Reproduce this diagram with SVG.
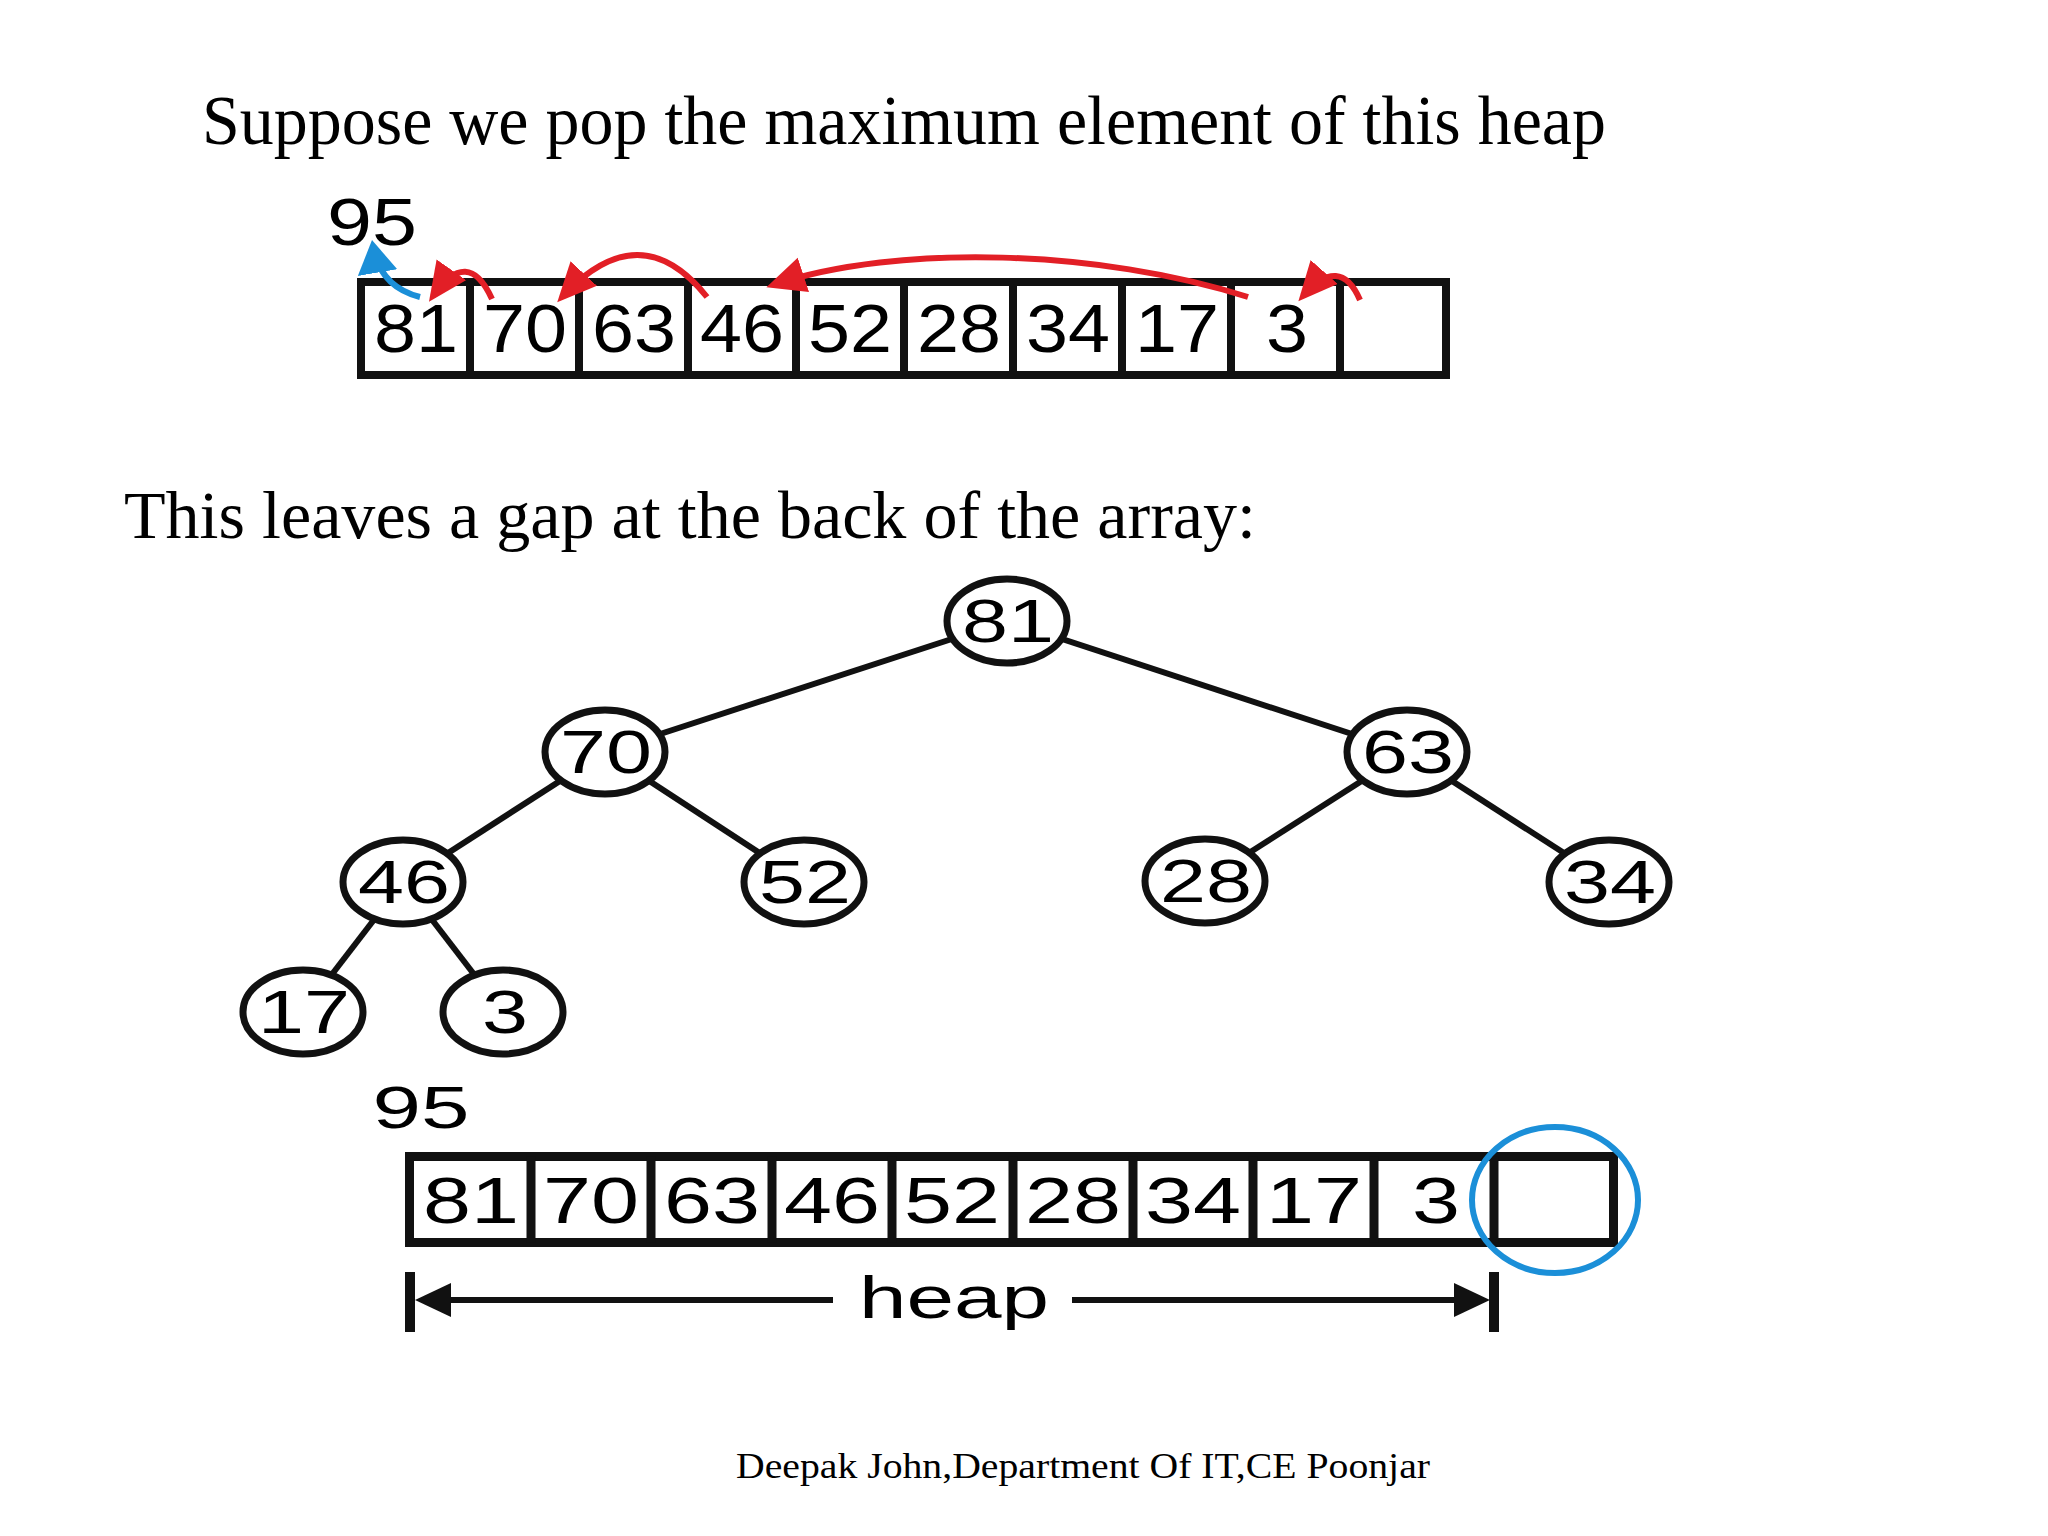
<svg xmlns="http://www.w3.org/2000/svg" width="2048" height="1536" viewBox="0 0 2048 1536">
<style>
.serif{font-family:"Liberation Serif","Times New Roman",serif;fill:#000}
.num{font-family:"Liberation Sans",Arial,Helvetica,sans-serif;fill:#000;text-anchor:middle}
.topnum{font-size:68px}
.botnum{font-size:64px}
.treenum{font-size:61px}
.cellbox{fill:#fff;stroke:#111;stroke-width:8}
.cellbox2{fill:#fff;stroke:#111;stroke-width:9}
.div1{stroke:#111;stroke-width:8}
.div2{stroke:#111;stroke-width:9}
.node{fill:#fff;stroke:#111;stroke-width:7}
.edge{stroke:#111;stroke-width:6;fill:none}
.red{stroke:#e21f26;stroke-width:6;fill:none}
.blue{stroke:#1b8fd8;stroke-width:6;fill:none}
</style>
<defs>
<marker id="redHead" markerUnits="userSpaceOnUse" markerWidth="44" markerHeight="40" refX="32" refY="18" orient="auto">
<path d="M0,0 L39,18 L0,36 z" fill="#e21f26"/>
</marker>
<marker id="blueHead" markerUnits="userSpaceOnUse" markerWidth="40" markerHeight="44" refX="27" refY="20" orient="auto">
<path d="M0,0 L33,20 L0,40 z" fill="#1b8fd8"/>
</marker>
</defs>
<rect width="2048" height="1536" fill="#fff"/>

<text class="serif" x="202" y="144" font-size="70" textLength="1404" lengthAdjust="spacingAndGlyphs">Suppose we pop the maximum element of this heap</text>
<text class="serif" x="124" y="538" font-size="68" textLength="1132" lengthAdjust="spacingAndGlyphs">This leaves a gap at the back of the array:</text>
<text class="serif" x="736" y="1478" font-size="36" textLength="694" lengthAdjust="spacingAndGlyphs">Deepak John,Department Of IT,CE Poonjar</text>

<!-- top array -->
<g id="top-array">
<rect class="cellbox" x="361" y="282" width="1085" height="93"/>
<line class="div1" x1="470" y1="282" x2="470" y2="375"/>
<line class="div1" x1="579" y1="282" x2="579" y2="375"/>
<line class="div1" x1="688" y1="282" x2="688" y2="375"/>
<line class="div1" x1="796" y1="282" x2="796" y2="375"/>
<line class="div1" x1="904" y1="282" x2="904" y2="375"/>
<line class="div1" x1="1013" y1="282" x2="1013" y2="375"/>
<line class="div1" x1="1122" y1="282" x2="1122" y2="375"/>
<line class="div1" x1="1231" y1="282" x2="1231" y2="375"/>
<line class="div1" x1="1340" y1="282" x2="1340" y2="375"/>
<text class="num topnum" x="416" y="352" textLength="84" lengthAdjust="spacingAndGlyphs">81</text>
<text class="num topnum" x="525" y="352" textLength="84" lengthAdjust="spacingAndGlyphs">70</text>
<text class="num topnum" x="634" y="352" textLength="84" lengthAdjust="spacingAndGlyphs">63</text>
<text class="num topnum" x="742" y="352" textLength="84" lengthAdjust="spacingAndGlyphs">46</text>
<text class="num topnum" x="850" y="352" textLength="84" lengthAdjust="spacingAndGlyphs">52</text>
<text class="num topnum" x="959" y="352" textLength="84" lengthAdjust="spacingAndGlyphs">28</text>
<text class="num topnum" x="1068" y="352" textLength="84" lengthAdjust="spacingAndGlyphs">34</text>
<text class="num topnum" x="1177" y="352" textLength="84" lengthAdjust="spacingAndGlyphs">17</text>
<text class="num topnum" x="1287" y="352" textLength="42" lengthAdjust="spacingAndGlyphs">3</text>
</g>
<text id="top-95" class="num" x="372" y="245" font-size="66" textLength="90" lengthAdjust="spacingAndGlyphs">95</text>

<!-- connectors -->
<g id="connectors">
<line class="edge" x1="1007" y1="621" x2="605" y2="752"/>
<line class="edge" x1="1007" y1="621" x2="1407" y2="752"/>
<line class="edge" x1="605" y1="752" x2="403" y2="882"/>
<line class="edge" x1="605" y1="752" x2="804" y2="882"/>
<line class="edge" x1="1407" y1="752" x2="1205" y2="881"/>
<line class="edge" x1="1407" y1="752" x2="1609" y2="882"/>
<line class="edge" x1="403" y1="882" x2="303" y2="1012"/>
<line class="edge" x1="403" y1="882" x2="503" y2="1012"/>

<path class="red" d="M 492 299 Q 468 246 433 296" marker-end="url(#redHead)"/>
<path class="red" d="M 707 297 Q 640 213 562 297" marker-end="url(#redHead)"/>
<path class="red" d="M 1248 297 C 1100 250 900 243 773 285" marker-end="url(#redHead)"/>
<path class="red" d="M 1360 300 Q 1340 254 1303 296" marker-end="url(#redHead)"/>
<path class="blue" d="M 420 297 Q 380 287 373 246" marker-end="url(#blueHead)"/>

<line x1="410" y1="1272" x2="410" y2="1332" stroke="#111" stroke-width="10"/>
<line x1="1494" y1="1272" x2="1494" y2="1332" stroke="#111" stroke-width="10"/>
<line x1="440" y1="1300" x2="833" y2="1300" stroke="#111" stroke-width="6"/>
<line x1="1072" y1="1300" x2="1465" y2="1300" stroke="#111" stroke-width="6"/>
<polygon points="415,1300 451,1283 451,1317" fill="#111"/>
<polygon points="1490,1300 1454,1283 1454,1317" fill="#111"/>
</g>

<!-- tree nodes -->
<g id="node-81"><ellipse class="node" cx="1007" cy="621" rx="60" ry="42"/><text class="num treenum" x="1008" y="642" textLength="92" lengthAdjust="spacingAndGlyphs">81</text></g>
<g id="node-70"><ellipse class="node" cx="605" cy="752" rx="60" ry="42"/><text class="num treenum" x="606" y="773" textLength="92" lengthAdjust="spacingAndGlyphs">70</text></g>
<g id="node-63"><ellipse class="node" cx="1407" cy="752" rx="60" ry="42"/><text class="num treenum" x="1408" y="773" textLength="92" lengthAdjust="spacingAndGlyphs">63</text></g>
<g id="node-46"><ellipse class="node" cx="403" cy="882" rx="60" ry="42"/><text class="num treenum" x="404" y="903" textLength="92" lengthAdjust="spacingAndGlyphs">46</text></g>
<g id="node-52"><ellipse class="node" cx="804" cy="882" rx="60" ry="42"/><text class="num treenum" x="805" y="903" textLength="92" lengthAdjust="spacingAndGlyphs">52</text></g>
<g id="node-28"><ellipse class="node" cx="1205" cy="881" rx="60" ry="42"/><text class="num treenum" x="1206" y="902" textLength="92" lengthAdjust="spacingAndGlyphs">28</text></g>
<g id="node-34"><ellipse class="node" cx="1609" cy="882" rx="60" ry="42"/><text class="num treenum" x="1610" y="903" textLength="92" lengthAdjust="spacingAndGlyphs">34</text></g>
<g id="node-17"><ellipse class="node" cx="303" cy="1012" rx="60" ry="42"/><text class="num treenum" x="304" y="1033" textLength="92" lengthAdjust="spacingAndGlyphs">17</text></g>
<g id="node-3"><ellipse class="node" cx="503" cy="1012" rx="60" ry="42"/><text class="num treenum" x="505" y="1033" textLength="46" lengthAdjust="spacingAndGlyphs">3</text></g>

<!-- bottom array -->
<text id="bottom-95" class="num" x="421" y="1128" font-size="60" textLength="97" lengthAdjust="spacingAndGlyphs">95</text>
<g id="bottom-array">
<rect class="cellbox2" x="409.5" y="1156.5" width="1204" height="86"/>
<line class="div2" x1="531" y1="1156.5" x2="531" y2="1242.5"/>
<line class="div2" x1="651" y1="1156.5" x2="651" y2="1242.5"/>
<line class="div2" x1="772" y1="1156.5" x2="772" y2="1242.5"/>
<line class="div2" x1="892" y1="1156.5" x2="892" y2="1242.5"/>
<line class="div2" x1="1013" y1="1156.5" x2="1013" y2="1242.5"/>
<line class="div2" x1="1133" y1="1156.5" x2="1133" y2="1242.5"/>
<line class="div2" x1="1253" y1="1156.5" x2="1253" y2="1242.5"/>
<line class="div2" x1="1374" y1="1156.5" x2="1374" y2="1242.5"/>
<line class="div2" x1="1494" y1="1156.5" x2="1494" y2="1242.5"/>
<text class="num botnum" x="471" y="1223" textLength="96" lengthAdjust="spacingAndGlyphs">81</text>
<text class="num botnum" x="591" y="1223" textLength="96" lengthAdjust="spacingAndGlyphs">70</text>
<text class="num botnum" x="712" y="1223" textLength="96" lengthAdjust="spacingAndGlyphs">63</text>
<text class="num botnum" x="832" y="1223" textLength="96" lengthAdjust="spacingAndGlyphs">46</text>
<text class="num botnum" x="952" y="1223" textLength="96" lengthAdjust="spacingAndGlyphs">52</text>
<text class="num botnum" x="1073" y="1223" textLength="96" lengthAdjust="spacingAndGlyphs">28</text>
<text class="num botnum" x="1193" y="1223" textLength="96" lengthAdjust="spacingAndGlyphs">34</text>
<text class="num botnum" x="1314" y="1223" textLength="96" lengthAdjust="spacingAndGlyphs">17</text>
<text class="num botnum" x="1436" y="1223" textLength="48" lengthAdjust="spacingAndGlyphs">3</text>
</g>
<ellipse id="gap-highlight" cx="1555" cy="1200" rx="83" ry="73" fill="none" stroke="#1b8fd8" stroke-width="6"/>
<text id="heap-label" class="num" x="954" y="1318" font-size="60" textLength="190" lengthAdjust="spacingAndGlyphs">heap</text>
</svg>
